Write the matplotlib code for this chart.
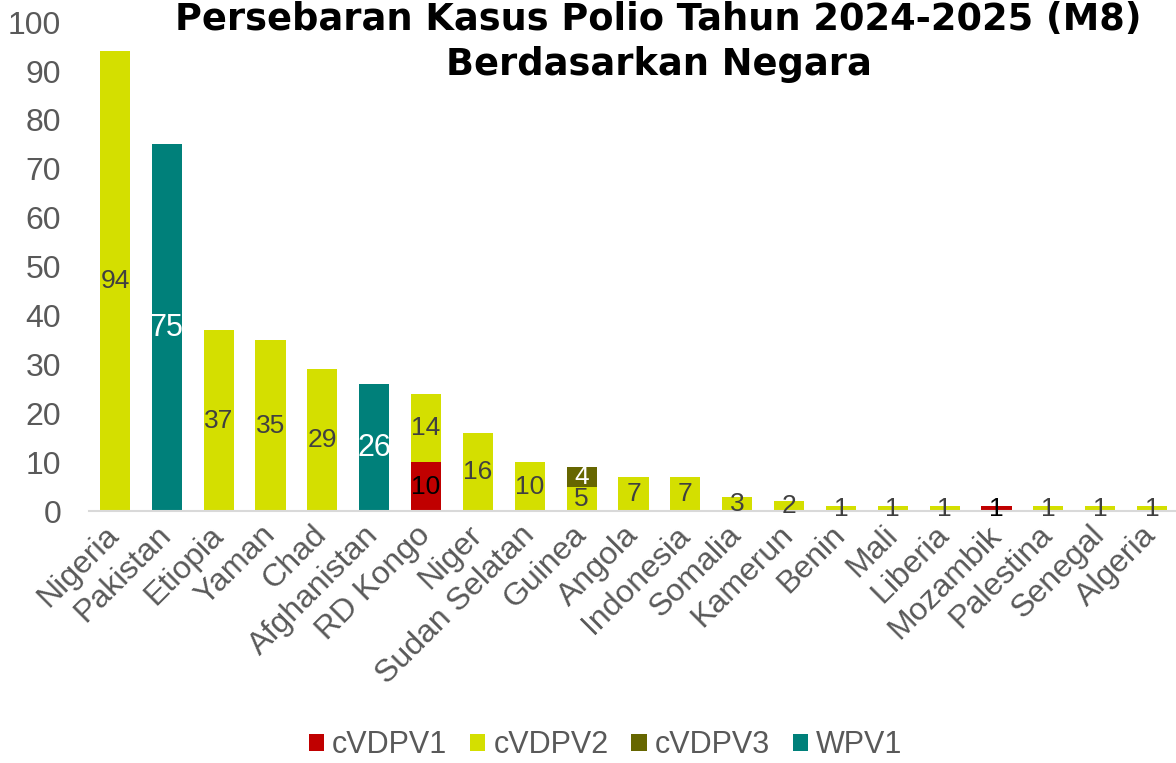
import numpy as np
import matplotlib.pyplot as plt

# Polio cases per country, 2024-2025 (M8), split by virus type
countries = ["Nigeria", "Pakistan", "Etiopia", "Yaman", "Chad", "Afghanistan",
             "RD Kongo", "Niger", "Sudan Selatan", "Guinea", "Angola", "Indonesia",
             "Somalia", "Kamerun", "Benin", "Mali", "Liberia", "Mozambik",
             "Palestina", "Senegal", "Algeria"]
cvdpv1 = [0, 0, 0, 0, 0, 0, 10, 0, 0, 0, 0, 0, 0, 0, 0, 0, 0, 1, 0, 0, 0]
cvdpv2 = [94, 0, 37, 35, 29, 0, 14, 16, 10, 5, 7, 7, 3, 2, 1, 1, 1, 0, 1, 1, 1]
cvdpv3 = [0, 0, 0, 0, 0, 0, 0, 0, 0, 4, 0, 0, 0, 0, 0, 0, 0, 0, 0, 0, 0]
wpv1 = [0, 75, 0, 0, 0, 26, 0, 0, 0, 0, 0, 0, 0, 0, 0, 0, 0, 0, 0, 0, 0]

# name, values, bar colour, label colour, label size
series = [
    ("cVDPV1", cvdpv1, "#C00000", "black", 19),
    ("cVDPV2", cvdpv2, "#D4DF00", "#404040", 19),
    ("cVDPV3", cvdpv3, "#666600", "white", 19),
    ("WPV1", wpv1, "#00807A", "white", 22),
]

plt.rcParams['font.family'] = ['Liberation Sans', 'DejaVu Sans']

fig = plt.figure(figsize=(11.76, 7.63), dpi=100)
ax = fig.add_axes([0.0757, 0.330, 0.926, 0.641])

x = np.arange(len(countries))
bottom = np.zeros(len(countries))
for name, vals, color, txt, size in series:
    vals = np.array(vals, dtype=float)
    ax.bar(x, vals, width=0.58, bottom=bottom, color=color, label=name)
    for xi, b, v in zip(x, bottom, vals):
        if v > 0:
            ax.text(xi, b + v / 2, f"{int(v)}", ha="center", va="center",
                    fontsize=size, color=txt)
    bottom += vals

ax.set_xlim(-0.5, len(countries) - 0.5)
ax.set_ylim(0, 100)
ax.set_yticks(range(0, 101, 10))
ax.set_xticks(x)
ax.set_xticklabels(countries, rotation=45, ha="right", va="center",
                   rotation_mode="anchor")
ax.tick_params(axis="both", length=0, colors="#595959")
ax.tick_params(axis="y", labelsize=23, pad=20)
ax.tick_params(axis="x", labelsize=23, pad=14)

for side in ["top", "right", "left"]:
    ax.spines[side].set_visible(False)
ax.spines["bottom"].set_color("#D9D9D9")
ax.spines["bottom"].set_linewidth(1.5)

fig.text(0.56, 0.999, "Persebaran Kasus Polio Tahun 2024-2025 (M8)\nBerdasarkan Negara",
         ha="center", va="top", fontsize=26.5, fontweight="bold",
         family="DejaVu Sans", linespacing=1.3)

leg = fig.legend(loc="center", bbox_to_anchor=(0.515, 0.023), ncol=4, frameon=False,
                 fontsize=22, handlelength=0.5, handleheight=0.5,
                 handletextpad=0.26, columnspacing=0.75)
for t in leg.get_texts():
    t.set_color("#595959")

fig.savefig("out.png", dpi=100)
